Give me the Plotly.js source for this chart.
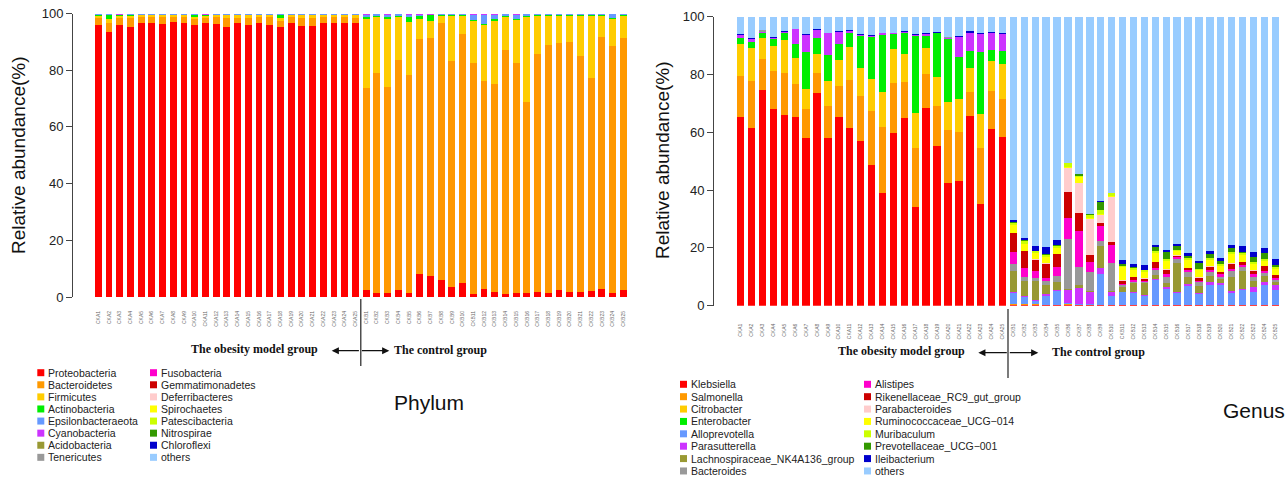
<!DOCTYPE html>
<html><head><meta charset="utf-8">
<script src="https://cdn.plot.ly/plotly-3.0.1.min.js"></script>
<style>html,body{margin:0;padding:0;background:#fff}#chart{width:1288px;height:479px}</style>
</head><body><div id="chart"></div>
<script>
const sampleLabels = ["CKA1","CKA2","CKA3","CKA4","CKA5","CKA6","CKA7","CKA8","CKA9","CKA10","CKA11","CKA12","CKA13","CKA14","CKA15","CKA16","CKA17","CKA18","CKA19","CKA20","CKA21","CKA22","CKA23","CKA24","CKA25",
"CKB1","CKB2","CKB3","CKB4","CKB5","CKB6","CKB7","CKB8","CKB9","CKB10","CKB11","CKB12","CKB13","CKB14","CKB15","CKB16","CKB17","CKB18","CKB19","CKB20","CKB21","CKB22","CKB23","CKB24","CKB25"];
const groupLabels = ["The obesity model group","The control group"];
const yTicks = [0,20,40,60,80,100];

/* ---------- Phylum ---------- */
const phylumNames = ["Proteobacteria","Bacteroidetes","Firmicutes","Actinobacteria","Epsilonbacteraeota","Cyanobacteria","Acidobacteria","Tenericutes",
"Fusobacteria","Gemmatimonadetes","Deferribacteres","Spirochaetes","Patescibacteria","Nitrospirae","Chloroflexi","others"];
const phylumColors = ["#FF0000","#FF9900","#FFCC00","#00EE00","#6699FF","#CC33FF","#999933","#999999",
"#FF00CC","#CC0000","#FFCCCC","#FFFF00","#CCFF00","#339900","#0000CC","#99CCFF"];
const proteobacteria = [96.1,93.5,96.1,95.3,96.8,96.7,96.2,97.1,96.7,96.1,96.5,96.2,95.3,96.5,95.9,96.7,96.1,95.3,96.8,95.6,95.5,96.7,96.5,96.5,96.5,
2.5,1.5,1.5,2.5,1.5,8.0,7.4,6.0,3.4,5.0,1.1,2.7,1.8,1.1,1.5,1.3,1.9,1.5,2.5,1.8,1.8,2.0,2.8,1.3,2.5];
const bacteroidetes = [2.4,3.2,2.3,3.1,1.8,1.9,2.4,1.6,1.9,1.8,2.0,2.4,3.2,2.0,2.6,1.9,2.5,2.1,1.8,2.8,2.8,1.9,2.1,2.1,2.0,
71.1,77.6,72.7,81.0,76.8,83.0,84.1,90.5,79.8,87.9,81.3,73.4,73.2,86.0,81.2,67.6,83.8,87.3,87.2,88.2,83.3,75.4,89.0,87.2,89.0];
const firmicutes = [0.7,1.2,0.8,0.8,0.7,0.7,0.7,0.6,0.7,0.8,0.7,0.7,0.8,0.8,0.8,0.7,0.7,1.0,0.7,0.9,1.0,0.7,0.7,0.7,0.8,
24.6,19.7,24.0,15.3,18.8,7.2,5.9,2.7,16.0,6.3,15.0,19.8,22.4,11.7,14.9,29.9,13.3,10.2,9.3,9.0,13.9,21.6,7.2,9.4,7.5];
const actinobacteria = [0.3,1.7,0.3,0.4,0.3,0.3,0.3,0.3,0.3,0.9,0.3,0.3,0.3,0.3,0.3,0.3,0.3,1.2,0.3,0.3,0.3,0.3,0.3,0.3,0.3,
0.5,0.4,0.4,0.4,1.6,0.8,1.9,0.3,0.3,0.3,0.4,0.5,0.8,0.4,0.4,0.4,0.4,0.4,0.4,0.4,0.4,0.4,0.4,0.4,0.4];
const epsilonbacteraeota = [0.2,0.1,0.1,0.1,0.1,0.1,0.1,0.1,0.1,0.1,0.1,0.1,0.1,0.1,0.1,0.1,0.1,0.1,0.1,0.1,0.1,0.1,0.1,0.1,0.1,
0.9,0.5,1.0,0.5,0.6,0.4,0.3,0.2,0.2,0.2,1.6,3.0,1.2,0.5,1.5,0.5,0.3,0.3,0.3,0.3,0.3,0.3,0.3,1.4,0.3];
const cyanobacteria = [0.1,0.1,0.2,0.1,0.1,0.1,0.1,0.1,0.1,0.1,0.2,0.1,0.1,0.1,0.1,0.1,0.1,0.1,0.1,0.1,0.1,0.1,0.1,0.1,0.1,
0.2,0.1,0.2,0.1,0.5,0.4,0.2,0.1,0.1,0.1,0.4,0.4,0.4,0.1,0.3,0.1,0.1,0.1,0.1,0.1,0.1,0.1,0.1,0.1,0.1];
const phylumOthers = [0.2,0.2,0.2,0.2,0.2,0.2,0.2,0.2,0.2,0.2,0.2,0.2,0.2,0.2,0.2,0.2,0.2,0.2,0.2,0.2,0.2,0.2,0.2,0.2,0.2,
0.2,0.2,0.2,0.2,0.2,0.2,0.2,0.2,0.2,0.2,0.2,0.2,0.2,0.2,0.2,0.2,0.2,0.2,0.2,0.2,0.2,0.2,0.2,0.2,0.2];

/* ---------- Genus ---------- */
const genusNames = ["Klebsiella","Salmonella","Citrobacter","Enterobacter","Alloprevotella","Parasutterella","Lachnospiraceae_NK4A136_group","Bacteroides",
"Alistipes","Rikenellaceae_RC9_gut_group","Parabacteroides","Ruminococcaceae_UCG\u2212014","Muribaculum","Prevotellaceae_UCG\u2212001","Ileibacterium","others"];
const genusColors = phylumColors;
const klebsiella = [65.2,61.4,74.6,68.0,65.9,65.2,57.9,73.7,57.9,65.2,61.6,57.1,48.7,39.1,59.7,64.8,34.0,68.5,55.3,42.4,43.3,65.7,35.1,61.1,58.3,
0.3,0.3,0.3,0.2,0.2,0.3,0.2,0.2,0.2,0.2,0.2,0.2,0.2,0.2,0.2,0.2,0.2,0.2,0.2,0.2,0.2,0.2,0.2,0.2,0.2];
const salmonella = [14.3,16.5,10.7,13.2,14.7,11.4,10.1,6.9,11.2,10.9,16.5,15.5,18.7,22.6,17.5,12.7,20.7,11.7,13.9,18.4,16.9,8.3,19.4,13.3,13.2,
0.2,0.2,0.2,0.2,0.2,0.2,0.1,0.1,0.1,0.1,0.1,0.1,0.1,0.1,0.1,0.1,0.1,0.1,0.1,0.1,0.1,0.1,0.1,0.1,0.1];
const citrobacter = [10.9,11.2,7.4,8.7,11.3,9.0,7.0,6.4,8.7,8.9,11.3,9.5,11.0,12.3,11.5,9.6,11.9,9.1,9.8,9.8,11.2,8.1,11.8,10.4,12.1,
0,0,0,0,0,0,0,0,0,0,0,0,0,0,0,0,0,0,0,0,0,0,0,0,0];
const enterobacter = [2.3,2.2,1.8,2.4,2.4,4.8,12.7,5.7,8.9,5.6,5.1,11.3,14.5,19.7,5.2,7.4,26.8,4.1,15.2,21.7,14.8,6.0,21.4,3.7,4.5,
0,0,0,0,0,0,0,0,0,0,0,0,0,0,0,0,0,0,0,0,0,0,0,0,0];
const alloprevotella = [0,0,0,0,0,0,0,0,0,0,0,0,0,0,0,0,0,0,0,0,0,0,0,0,0,
3.8,2.6,1.2,2.8,4.6,0.6,0.3,0.3,10.5,2.9,4.3,4.2,3.2,8.6,5.6,4.2,6.5,3.6,7.0,6.8,4.2,5.0,4.5,7.0,5.0];
const parasutterella = [0.9,1.0,0.2,0.4,0.3,5.2,6.0,2.7,7.5,4.2,0.5,0.2,0.5,0.5,0.3,0.3,0.3,0.6,0.3,0.3,6.9,6.4,6.2,5.7,5.8,
0.3,0.3,0.3,0.8,0.3,4.3,5.4,4.3,2.4,1.7,0.3,0.3,0.3,0.3,0.5,0.3,0.8,0.5,0.8,0.6,0.5,0.6,1.8,1.0,1.8];
const lachnospiraceae = [0,0,0,0,0,0,0,0,0,0,0,0,0,0,0,0,0,0,0,0,0,0,0,0,0,
7.5,5.2,6.5,3.0,3.0,0.3,1.2,0.2,7.4,0.3,1.6,3.0,4.0,1.5,1.5,10.0,2.5,2.5,2.2,1.5,5.0,6.0,2.0,2.0,1.0];
const bacteroides = [0,0,0.6,0,0,0,0,0,0,0,0,0,0,0,0,0,0,0,0,0.5,0,0,0,0,0,
2.2,1.4,1.0,1.4,2.0,17.3,6.1,6.5,1.7,9.5,0.6,0.4,0.3,1.5,2.0,1.2,1.4,1.2,1.2,0.8,2.0,1.5,1.5,1.0,0.8];
const alistipes = [0,0,0,0,0,0,0,0,0,0,0,0,0,0,0,0,0,0,0,0,0,0,0,0,0,
4.4,3.2,2.6,1.2,3.0,7.5,12.7,3.6,5.4,6.3,0.5,0.6,0.4,0.8,1.0,0.8,0.8,0.6,1.0,0.8,0.6,0.8,0.8,0.8,0.6];
const rikenellaceae = [0,0,0,0,0,0,0,0,0,0,0,0,0,0,0,0,0,0,0,0,0,0,0,0,0,
6.3,5.8,3.8,5.0,4.6,8.9,6.2,2.5,1.0,1.2,1.1,1.0,0.9,2.0,1.5,0.5,0.8,1.0,1.0,0.8,2.0,0.8,1.2,1.6,1.0];
const parabacteroides = [0,0,0,0,0,0,0,0,0,0,0,0,0,0,0,0,0,0,0,0,0,0,0,0,0,
0.2,0.1,0.1,0.1,0.1,8.1,10.4,12.4,2.8,15.5,0.1,0.1,0.1,0.2,0.2,0.1,0.1,0.1,0.1,0.1,0.1,0.1,0.1,0.1,0.1];
const ruminococcaceae = [0,0,0,0,0,0,0,0,0,0,0,0,0,0,0,0,0,0,0,0,0,0,0,0,0,
2.6,2.3,2.2,2.2,2.0,0.4,2.0,0.2,0.3,0.2,4.5,2.5,2.2,3.0,2.8,1.6,2.6,2.5,2.3,2.2,3.2,2.5,2.3,1.8,2.2];
const muribaculum = [0,0,0,0,0,0,0,0,0,0,0,0,0,0,0,0,0,0,0,0,0,0,0,0,0,
0.7,1.1,0.6,0.8,0.6,1.4,0.3,1.2,1.2,1.0,0.5,0.6,0.5,0.8,0.6,0.4,0.6,0.5,0.5,0.6,0.6,0.5,0.5,0.5,0.6];
const prevotellaceae = [0,0,0,0,0,0,0,0,0,0,0,0,0,0,0,0,0,0,0,0,0,0,0,0,0,
0.3,0.2,0.3,0.3,0.3,0.1,0.6,0.1,2.9,0.1,0.5,0.4,0.2,1.4,2.6,1.4,0.8,2.0,1.5,1.0,1.6,0.5,2.0,2.3,0.8];
const ileibacterium = [0.4,0.4,0,0.4,0.3,0.3,0.2,0.2,0.3,0.3,0.3,0.4,0.3,0.2,0.3,0.3,0.3,0.4,0.2,0,0.3,0.5,0.6,0.6,0.3,
1.0,0.8,1.5,2.4,1.9,0.1,0.2,0.1,0.3,0.1,1.6,1.2,1.6,0.6,0.8,0.6,0.9,0.8,1.0,0.9,1.0,2.2,1.5,1.4,1.8];
const genusOthers = [6.0,7.3,4.7,6.9,5.1,4.1,6.1,4.4,5.5,4.9,4.7,6.0,6.3,5.6,5.5,4.9,6.0,5.6,5.3,6.9,6.6,5.0,5.5,5.2,5.8,
70.2,76.5,79.4,79.6,77.2,50.5,54.3,68.3,63.8,60.9,84.1,85.4,86.0,79.0,80.6,78.6,81.9,84.4,81.1,83.6,78.9,79.2,81.5,80.2,84.0];

const phylumSeries = [proteobacteria,bacteroidetes,firmicutes,actinobacteria,epsilonbacteraeota,cyanobacteria,null,null,
null,null,null,null,null,null,null,phylumOthers];
const genusSeries = [klebsiella,salmonella,citrobacter,enterobacter,alloprevotella,parasutterella,lachnospiraceae,bacteroides,
alistipes,rikenellaceae,parabacteroides,ruminococcaceae,muribaculum,prevotellaceae,ileibacterium,genusOthers];

/* ---------- build ---------- */
const W = 1288, H = 479;
const px = v => v / W, py = v => 1 - v / H;
const SANS = "Liberation Sans, Arial, sans-serif";
const SERIF = "Liberation Serif, Times New Roman, serif";

const traces = [];
phylumNames.forEach((n, i) => {
  if (!phylumSeries[i]) return;
  traces.push({type:'bar', x: sampleLabels, y: phylumSeries[i], name: n, width: 0.64,
    marker:{color: phylumColors[i], line:{width:0}}, xaxis:'x', yaxis:'y', showlegend:false, hoverinfo:'skip'});
});
genusNames.forEach((n, i) => {
  traces.push({type:'bar', x: sampleLabels, y: genusSeries[i], name: n, width: 0.68,
    marker:{color: genusColors[i], line:{width:0}}, xaxis:'x2', yaxis:'y2', showlegend:false, hoverinfo:'skip'});
});

const yAxisCommon = {range:[0,100], tickvals: yTicks, ticktext: yTicks.map(String), ticks:'outside', ticklen:6, tickwidth:1,
  tickcolor:'#444', showline:true, linecolor:'#444', linewidth:1, showgrid:false, zeroline:false,
  tickfont:{family:SANS, size:13, color:'#222'}, anchor:'free', fixedrange:true};
const xAxisCommon = {type:'category', range:[-0.5,49.5], showline:false, ticks:'', showgrid:false, zeroline:false,
  tickangle:-90, tickfont:{family:SANS, size:5, color:'#666'}, fixedrange:true};

const annotations = [], shapes = [];
// y-axis titles
annotations.push({xref:'paper', yref:'paper', x:px(18), y:py(155), text:'Relative abundance(%)', textangle:-90, showarrow:false,
  font:{family:SANS, size:19, color:'#111'}, xanchor:'center', yanchor:'middle'});
annotations.push({xref:'paper', yref:'paper', x:px(662), y:py(160), text:'Relative abundance(%)', textangle:-90, showarrow:false,
  font:{family:SANS, size:19, color:'#111'}, xanchor:'center', yanchor:'middle'});
// panel names
annotations.push({xref:'paper', yref:'paper', x:px(429), y:py(402), text:'Phylum', showarrow:false,
  font:{family:SANS, size:21, color:'#111'}, xanchor:'center', yanchor:'middle'});
annotations.push({xref:'paper', yref:'paper', x:px(1254), y:py(410), text:'Genus', showarrow:false,
  font:{family:SANS, size:21, color:'#111'}, xanchor:'center', yanchor:'middle'});

// group markers
function groupMarks(xref, lineTop, lineBot, arrowY, leftTip, rightTip, mid, obesityX, controlX) {
  shapes.push({type:'line', xref:xref, yref:'paper', x0:24.5, x1:24.5, y0:py(lineTop), y1:py(lineBot), line:{color:'#222', width:1.2}});
  annotations.push({xref:'paper', yref:'paper', x:px(leftTip), y:py(arrowY), ax:mid-leftTip, ay:0, text:'', showarrow:true,
    arrowhead:2, arrowsize:1.1, arrowwidth:1.3, arrowcolor:'#111'});
  annotations.push({xref:'paper', yref:'paper', x:px(rightTip), y:py(arrowY), ax:mid-rightTip, ay:0, text:'', showarrow:true,
    arrowhead:2, arrowsize:1.1, arrowwidth:1.3, arrowcolor:'#111'});
  annotations.push({xref:'paper', yref:'paper', x:px(obesityX), y:py(arrowY-2), text:'<b>'+groupLabels[0]+'</b>', showarrow:false,
    font:{family:SERIF, size:12, color:'#111'}, xanchor:'center', yanchor:'middle'});
  annotations.push({xref:'paper', yref:'paper', x:px(controlX), y:py(arrowY-1), text:'<b>'+groupLabels[1]+'</b>', showarrow:false,
    font:{family:SERIF, size:12, color:'#111'}, xanchor:'center', yanchor:'middle'});
}
groupMarks('x', 299, 366, 350.7, 331.7, 389.3, 360.4, 254.5, 440);
groupMarks('x2', 309, 378, 352.7, 978.3, 1038.3, 1008.3, 901, 1098.7);

// legends
function legend(names, colors, sq1, tx1, sq2, tx2, y0, dy) {
  names.forEach((n, i) => {
    const col = i < 8 ? 0 : 1, row = i % 8;
    const sx = col ? sq2 : sq1, tx = col ? tx2 : tx1, cy = y0 + row*dy;
    shapes.push({type:'rect', xref:'paper', yref:'paper', x0:px(sx), x1:px(sx+7), y0:py(cy+3.5), y1:py(cy-3.5),
      fillcolor: colors[i], line:{width:0}});
    annotations.push({xref:'paper', yref:'paper', x:px(tx), y:py(cy), text:n, showarrow:false,
      font:{family:SANS, size:10.5, color:'#222'}, xanchor:'left', yanchor:'middle'});
  });
}
legend(phylumNames, phylumColors, 37.3, 46, 150, 158.8, 372.7, 12.09);
legend(genusNames, genusColors, 680, 688.5, 864, 872.6, 384.3, 12.38);

const layout = {
  width: W, height: H, margin:{l:0, r:0, t:0, b:0}, paper_bgcolor:'#fff', plot_bgcolor:'#fff',
  barmode:'stack', showlegend:false,
  xaxis: Object.assign({}, xAxisCommon, {domain:[px(92.9), px(628.7)], anchor:'y', ticklabelstandoff:12}),
  yaxis: Object.assign({}, yAxisCommon, {domain:[1-297/H, 1-13.5/H], position: px(72)}),
  xaxis2: Object.assign({}, xAxisCommon, {domain:[px(735.2), px(1280.8)], anchor:'y2', ticklabelstandoff:16}),
  yaxis2: Object.assign({}, yAxisCommon, {domain:[1-305.7/H, 1-16.7/H], position: px(713)}),
  annotations, shapes
};
Plotly.newPlot('chart', traces, layout, {staticPlot:true, displayModeBar:false});
</script></body></html>
